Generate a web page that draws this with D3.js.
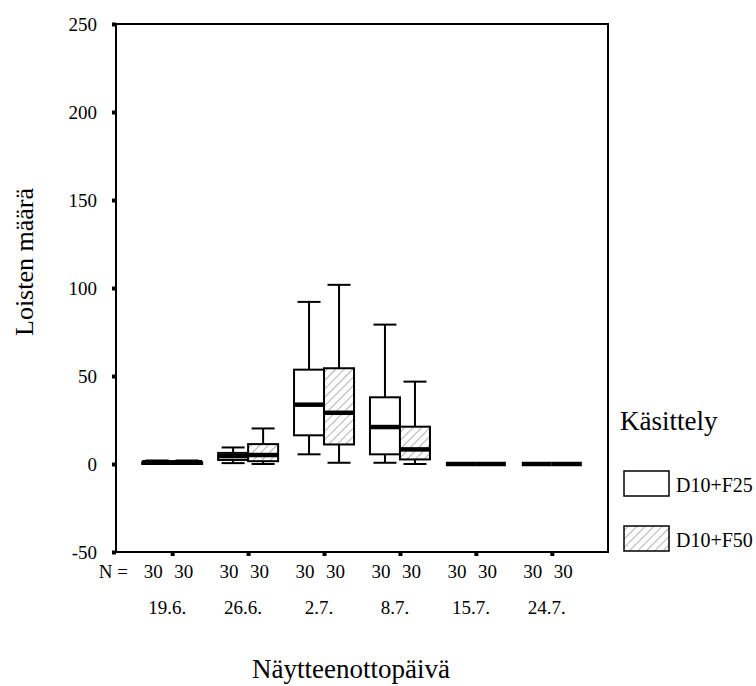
<!DOCTYPE html>
<html><head><meta charset="utf-8">
<script src="https://cdnjs.cloudflare.com/ajax/libs/d3/7.8.5/d3.min.js"></script>
<style>body{margin:0;background:#fff}svg{display:block}svg text{font-family:"Liberation Serif","Times New Roman",serif !important;fill:#000}</style>
</head><body><svg id="c" width="756" height="686"></svg>
<script>
const dates = ["19.6.", "26.6.", "2.7.", "8.7.", "15.7.", "24.7."];
const treatments = ["D10+F25", "D10+F50"];
const nF25 = [30, 30, 30, 30, 30, 30];
const nF50 = [30, 30, 30, 30, 30, 30];
const yTicks = [-50, 0, 50, 100, 150, 200, 250];

const f25Min = [0, 0.5, 5.5, 0.7, 0, 0];
const f25Q1 = [0, 2.3, 16.3, 5.5, 0, 0];
const f25Median = [1, 4.5, 33.7, 21.0, 0, 0];
const f25Q3 = [1, 6.3, 53.6, 37.9, 0, 0];
const f25Max = [2, 9.4, 92.1, 79.2, 0, 0];

const f50Min = [0, 0, 0.7, 0, 0, 0];
const f50Q1 = [0, 1.6, 11.1, 2.6, 0, 0];
const f50Median = [1, 5.1, 29.1, 8.3, 0, 0];
const f50Q3 = [1, 11.3, 54.4, 21.2, 0, 0];
const f50Max = [2, 20.2, 101.8, 46.8, 0, 0];

const svg = d3.select("#c");
const L = 116, R = 608, T = 24, B = 552;
const y = d3.scaleLinear().domain([-50, 250]).range([B, T]);
const x = d3.scalePoint().domain(dates).range([L, R]).padding(0.74);
const sub = d3.scaleBand().domain(treatments).range([-30, 30]);

const defs = svg.append("defs");
const pat = defs.append("pattern").attr("id", "hatch").attr("patternUnits", "userSpaceOnUse")
  .attr("width", 6).attr("height", 6).attr("patternTransform", "rotate(45)");
pat.append("rect").attr("width", 6).attr("height", 6).attr("fill", "#fff");
pat.append("line").attr("x1", 0).attr("y1", 0).attr("x2", 0).attr("y2", 6)
  .attr("stroke", "#666").attr("stroke-width", 1);

const series = [
  {name: treatments[0], fill: "#fff", min: f25Min, q1: f25Q1, med: f25Median, q3: f25Q3, max: f25Max},
  {name: treatments[1], fill: "url(#hatch)", min: f50Min, q1: f50Q1, med: f50Median, q3: f50Q3, max: f50Max}
];

// boxes
series.forEach(s => {
  dates.forEach((d, i) => {
    const x0 = x(d) + sub(s.name), w = sub.bandwidth(), cx = x0 + w / 2;
    const g = svg.append("g");
    const capW = 23;
    const vMin = s.min[i], vQ1 = s.q1[i], vMed = s.med[i], vQ3 = s.q3[i], vMax = s.max[i];
    g.append("line").attr("x1", cx).attr("x2", cx).attr("y1", y(vMax)).attr("y2", y(vQ3)).attr("stroke", "#000").attr("stroke-width", 2);
    g.append("line").attr("x1", cx).attr("x2", cx).attr("y1", y(vMin)).attr("y2", y(vQ1)).attr("stroke", "#000").attr("stroke-width", 2);
    g.append("line").attr("x1", cx - capW / 2).attr("x2", cx + capW / 2).attr("y1", y(vMax)).attr("y2", y(vMax)).attr("stroke", "#000").attr("stroke-width", 2);
    g.append("line").attr("x1", cx - capW / 2).attr("x2", cx + capW / 2).attr("y1", y(vMin)).attr("y2", y(vMin)).attr("stroke", "#000").attr("stroke-width", 2);
    g.append("rect").attr("x", x0).attr("width", w).attr("y", y(vQ3)).attr("height", Math.max(0, y(vQ1) - y(vQ3)))
      .attr("fill", s.fill).attr("stroke", "#000").attr("stroke-width", 2);
    g.append("line").attr("x1", x0).attr("x2", x0 + w).attr("y1", y(vMed)).attr("y2", y(vMed)).attr("stroke", "#000").attr("stroke-width", 4.5);
  });
});

// frame
svg.append("rect").attr("x", L).attr("y", T).attr("width", R - L).attr("height", B - T)
  .attr("fill", "none").attr("stroke", "#000").attr("stroke-width", 2);

// y axis
const yAxis = d3.axisLeft(y).tickValues(yTicks).tickSize(0).tickPadding(19).tickFormat(d => String(d));
const ya = svg.append("g").attr("transform", `translate(${L},0)`).call(yAxis);
ya.select(".domain").remove();
ya.attr("font-size", 19).attr("font-family", "Liberation Serif");
ya.selectAll(".tick").append("rect").attr("x", -4).attr("y", -2).attr("width", 4).attr("height", 4).attr("fill", "#000");

// x axis
const xAxis = d3.axisBottom(x).tickSize(0).tickFormat("");
const xa = svg.append("g").attr("transform", `translate(0,${B})`).call(xAxis);
xa.select(".domain").remove();
xa.selectAll(".tick").append("rect").attr("x", -2).attr("y", 0).attr("width", 4).attr("height", 4).attr("fill", "#000");

// N row
svg.append("text").attr("x", 128).attr("y", 578).attr("text-anchor", "end").attr("font-size", 19).text("N =");
dates.forEach((d, i) => {
  svg.append("text").attr("x", x(d) - 19).attr("y", 578).attr("text-anchor", "middle").attr("font-size", 19).text(nF25[i]);
  svg.append("text").attr("x", x(d) + 11.5).attr("y", 578).attr("text-anchor", "middle").attr("font-size", 19).text(nF50[i]);
  svg.append("text").attr("x", x(d) - 5).attr("y", 614).attr("text-anchor", "middle").attr("font-size", 19).text(d);
});

// axis titles
svg.append("text").attr("transform", "translate(33,262) rotate(-90)").attr("text-anchor", "middle").attr("font-size", 26).text("Loisten määrä");
svg.append("text").attr("x", 351).attr("y", 678).attr("text-anchor", "middle").attr("font-size", 27).text("Näytteenottopäivä");

// legend
svg.append("text").attr("x", 620).attr("y", 430).attr("font-size", 27).text("Käsittely");
const leg = [{name: treatments[0], fill: "#fff", y: 471}, {name: treatments[1], fill: "url(#hatch)", y: 526}];
leg.forEach(l => {
  svg.append("rect").attr("x", 624).attr("y", l.y).attr("width", 45).attr("height", 25).attr("fill", l.fill).attr("stroke", "#000").attr("stroke-width", 1.5);
  svg.append("text").attr("x", 676).attr("y", l.y + 21).attr("font-size", 20).text(l.name);
});
</script></body></html>
